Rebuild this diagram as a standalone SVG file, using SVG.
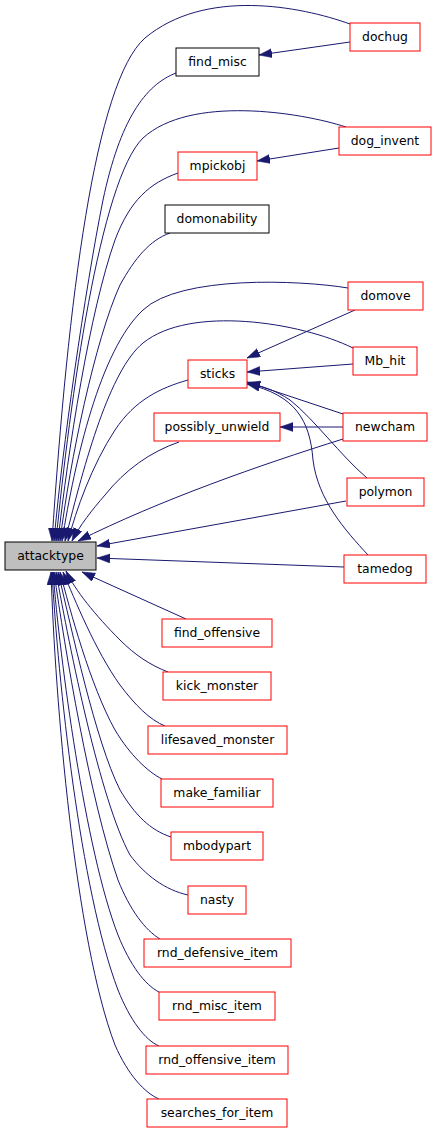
<svg xmlns="http://www.w3.org/2000/svg" width="437" height="1133" viewBox="0 0 437 1133">
<style>
.n rect{fill:#fff;stroke:#ff0000;stroke-width:1}
.n.b rect{stroke:#000}
.n.s rect{fill:#bfbfbf;stroke:#000}
.n text{font-family:"DejaVu Sans",sans-serif;font-size:12.4px;text-anchor:middle;fill:#000}
.e path{fill:none;stroke:#191970;stroke-width:1;marker-end:url(#ah)}
</style>
<defs>
<marker id="ah" markerUnits="userSpaceOnUse" markerWidth="14" markerHeight="10" refX="13" refY="4.5" orient="auto">
<polygon points="0,0 13,4.5 0,9" fill="#191970" stroke="#191970" stroke-width="0.5"/>
</marker>
</defs>
<rect width="437" height="1133" fill="#fff"/>
<g id="edges" class="e">
<path d="M350,24 C300,6 205,-12 145,38 C95,82 68,300 52,541"/>
<path d="M350,42 L259,55"/>
<path d="M176,73 C145,85 120,120 103,200 C85,290 62,450 54,541"/>
<path d="M346,127 C300,112 190,95 143,138 C100,180 70,400 56,541"/>
<path d="M339,148 L257,161"/>
<path d="M178,173 C150,183 130,200 115,240 C90,310 68,450 58,541"/>
<path d="M170,233 C150,240 135,258 120,285 C95,340 70,460 60,541"/>
<path d="M348,288 C300,280 180,275 143,310 C100,350 75,460 62,541"/>
<path d="M355,310 L247,358"/>
<path d="M353,348 C300,322 190,305 143,343 C110,370 85,460 65,541"/>
<path d="M353,364 L247,372"/>
<path d="M188,380 C160,388 135,400 115,430 C92,465 76,510 68,541"/>
<path d="M179,442 C150,452 125,470 105,495 C92,510 80,525 72,541"/>
<path d="M343,427 L280,427"/>
<path d="M343,414 L247,382"/>
<path d="M343,439 C260,465 160,500 78,541"/>
<path d="M367,478 C340,455 315,420 290,400 C275,390 262,386 247,383"/>
<path d="M346,501 L97,546"/>
<path d="M368,555 C345,530 318,500 313,460 C310,420 295,395 247,384"/>
<path d="M344,567 L97,558"/>
<path d="M186,619 L82,572"/>
<path d="M168,672 C150,665 135,655 120,640 C95,615 75,590 66,571"/>
<path d="M165,726 C150,720 135,705 120,685 C95,650 75,600 63,572"/>
<path d="M162,779 C148,772 130,755 115,730 C90,685 70,610 60,572"/>
<path d="M171,837 C150,830 135,815 120,790 C95,740 72,630 58,572"/>
<path d="M188,895 C165,890 145,875 130,855 C100,800 70,650 56,572"/>
<path d="M160,939 C145,930 130,910 118,880 C90,800 65,650 54,572"/>
<path d="M159,992 C145,985 130,965 118,935 C85,850 60,660 53,572"/>
<path d="M159,1046 C145,1040 130,1020 118,990 C80,890 58,680 52,572"/>
<path d="M159,1099 C145,1093 128,1075 115,1045 C75,940 55,700 51,572"/>
</g>
<g id="attacktype" class="n s"><rect x="5" y="542" width="91" height="28"/><text x="50.5" y="560.3">attacktype</text></g>
<g id="dochug" class="n"><rect x="350" y="23" width="70" height="28"/><text x="385" y="41.3">dochug</text></g>
<g id="find_misc" class="n b"><rect x="176" y="48" width="83" height="28"/><text x="217.5" y="66.3">find_misc</text></g>
<g id="dog_invent" class="n"><rect x="339" y="127" width="92" height="28"/><text x="385" y="145.3">dog_invent</text></g>
<g id="mpickobj" class="n"><rect x="178" y="152" width="79" height="28"/><text x="217.5" y="170.3">mpickobj</text></g>
<g id="domonability" class="n b"><rect x="165" y="205" width="104" height="28"/><text x="217" y="223.3">domonability</text></g>
<g id="domove" class="n"><rect x="348" y="282" width="75" height="28"/><text x="385.5" y="300.3">domove</text></g>
<g id="Mb_hit" class="n"><rect x="353" y="347" width="64" height="28"/><text x="385" y="365.3">Mb_hit</text></g>
<g id="sticks" class="n"><rect x="188" y="360" width="59" height="28"/><text x="217.5" y="378.3">sticks</text></g>
<g id="possibly_unwield" class="n"><rect x="154" y="413" width="126" height="28"/><text x="217" y="431.3">possibly_unwield</text></g>
<g id="newcham" class="n"><rect x="343" y="413" width="84" height="28"/><text x="385" y="431.3">newcham</text></g>
<g id="polymon" class="n"><rect x="347" y="478" width="77" height="28"/><text x="385.5" y="496.3">polymon</text></g>
<g id="tamedog" class="n"><rect x="344" y="555" width="82" height="28"/><text x="385" y="573.3">tamedog</text></g>
<g id="find_offensive" class="n"><rect x="162" y="619" width="110" height="28"/><text x="217" y="637.3">find_offensive</text></g>
<g id="kick_monster" class="n"><rect x="163" y="672" width="108" height="28"/><text x="217" y="690.3">kick_monster</text></g>
<g id="lifesaved_monster" class="n"><rect x="148" y="726" width="139" height="28"/><text x="217.5" y="744.3">lifesaved_monster</text></g>
<g id="make_familiar" class="n"><rect x="161" y="779" width="112" height="28"/><text x="217" y="797.3">make_familiar</text></g>
<g id="mbodypart" class="n"><rect x="171" y="832" width="92" height="28"/><text x="217" y="850.3">mbodypart</text></g>
<g id="nasty" class="n"><rect x="188" y="886" width="58" height="28"/><text x="217" y="904.3">nasty</text></g>
<g id="rnd_defensive_item" class="n"><rect x="144" y="939" width="147" height="28"/><text x="217.5" y="957.3">rnd_defensive_item</text></g>
<g id="rnd_misc_item" class="n"><rect x="159" y="992" width="116" height="28"/><text x="217" y="1010.3">rnd_misc_item</text></g>
<g id="rnd_offensive_item" class="n"><rect x="146" y="1046" width="142" height="28"/><text x="217" y="1064.3">rnd_offensive_item</text></g>
<g id="searches_for_item" class="n"><rect x="147" y="1099" width="140" height="28"/><text x="217" y="1117.3">searches_for_item</text></g>
</svg>
